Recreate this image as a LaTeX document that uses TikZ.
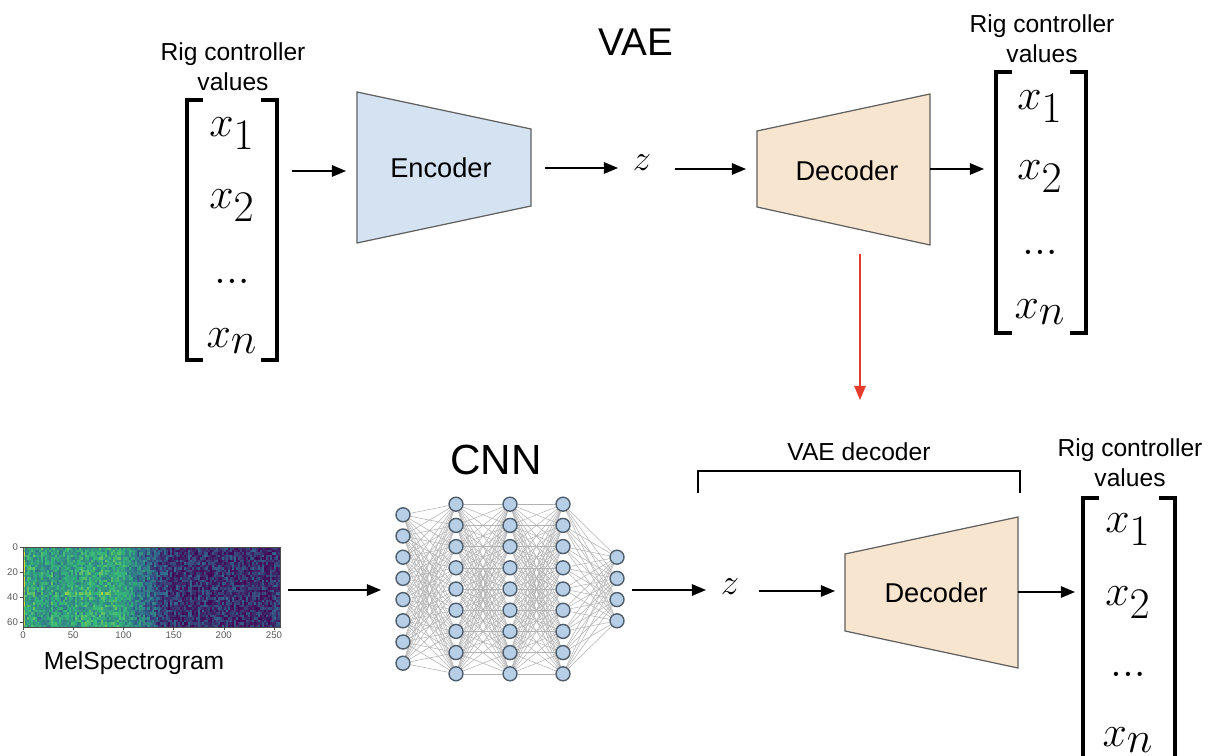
\documentclass[tikz,border=0pt]{standalone}
\usepackage{amsmath}
\usepackage[no-math]{fontspec}
\setmainfont{Liberation Sans}
\usetikzlibrary{arrows.meta,positioning,backgrounds}

\definecolor{encfill}{HTML}{D4E2F2}
\definecolor{decfill}{HTML}{F8E5CF}
\definecolor{blockline}{HTML}{606060}
\definecolor{neufill}{HTML}{B7CFE6}
\definecolor{neuline}{HTML}{505E6C}
\definecolor{redarrow}{HTML}{E53B2C}
% viridis pieces
\definecolor{virAlo}{HTML}{440154}
\definecolor{virAhi}{HTML}{31688E}
\definecolor{virBlo}{HTML}{31688E}
\definecolor{virBhi}{HTML}{35B779}
\definecolor{virClo}{HTML}{35B779}
\definecolor{virChi}{HTML}{FDE725}

\tikzset{
  arr/.style={line width=0.8pt,-{Triangle[length=8pt,width=6.5pt]}},
  block/.style={draw=blockline,line width=0.7pt},
  blocktext/.style={font=\fontsize{15.5}{18}\selectfont},
  vecbr/.style={line width=2.2pt},
  entry/.style={font=\fontsize{36}{40}\selectfont,inner sep=0pt},
  rigtext/.style={font=\fontsize{14}{17}\selectfont,align=center},
  neuron/.style={circle,draw=neuline,fill=neufill,line width=0.8pt,minimum size=0.28cm,inner sep=0pt},
  synapse/.style={gray!60,line width=0.3pt},
  tick/.style={font=\fontsize{5.5}{6}\selectfont,text=gray!70!black,inner sep=1pt}
}

% bracket pair: left x, right x, top y, bottom y
\newcommand{\vecbracket}[4]{
  \draw[vecbr] (#1+16,#3) -- (#1,#3) -- (#1,#4) -- (#1+16,#4);
  \draw[vecbr] (#2-16,#3) -- (#2,#3) -- (#2,#4) -- (#2-16,#4);
}

\begin{document}
\begin{tikzpicture}[x=0.02cm,y=-0.02cm]
\useasboundingbox (0,0) rectangle (1213,756);
\clip (0,0) rectangle (1213,756);

%%% VAE part
\node[font=\fontsize{22}{26}\selectfont] (vae) at (636,42) {VAE};

\node[rigtext] (rigTL) at (233,67) {Rig controller\\values};
\vecbracket{187}{277}{100}{360}
\node[entry] (inx1) at (232,134) {$x_1$};
\node[entry] (inx2) at (232,206) {$x_2$};
\node[entry] (indots) at (232,281) {$...$};
\node[entry] (inxn) at (232,341) {$x_n$};

\filldraw[block,fill=encfill] (357,92) -- (531,129) -- (531,206) -- (357,243) -- cycle;
\node[blocktext] (enc) at (441,168) {Encoder};

\node[font=\fontsize{22}{26}\selectfont] (ztop) at (642,163) {$z$};

\filldraw[block,fill=decfill] (757,131) -- (930,94) -- (930,245) -- (757,207) -- cycle;
\node[blocktext] (dectop) at (847,171) {Decoder};

\node[rigtext] (rigTR) at (1042,39) {Rig controller\\values};
\vecbracket{996}{1086}{72}{333}
\node[entry] (outx1) at (1040,107) {$x_1$};
\node[entry] (outx2) at (1040,177) {$x_2$};
\node[entry] (outdots) at (1040,252) {$...$};
\node[entry] (outxn) at (1040,312) {$x_n$};

\coordinate (inR) at (292,171);
\coordinate (encL) at (346,171);
\coordinate (encR) at (545,168);
\coordinate (zL) at (618,168);
\coordinate (zR) at (675,169);
\coordinate (decL) at (746,169);
\coordinate (decR) at (930,169);
\coordinate (outL) at (984,169);
\draw[arr] (inR) -- (encL);
\draw[arr] (encR) -- (zL);
\draw[arr] (zR) -- (decL);
\draw[arr] (decR) -- (outL);

% decoder is reused below
\coordinate (reuseA) at (860,254);
\coordinate (reuseB) at (860,400);
\draw[arr,redarrow] (reuseA) -- (reuseB);

%%% CNN part
\node[font=\fontsize{24}{28}\selectfont] (cnn) at (496,460) {CNN};

% mel spectrogram, viridis-like noise
\begin{scope}
\clip (23,547) rectangle (280,627);
\pgfmathsetseed{42}
\foreach \i in {0,...,127}{
  \pgfmathsetmacro\tpos{\i*2}
  \pgfmathsetmacro\colbase{0.15+0.42*min(1,max(0,(148-\tpos)/53))}
  \pgfmathsetmacro\colval{\colbase+0.10*(rnd-0.5)+ifthenelse(\i==0,0.32,0)}
  \foreach \j in {0,...,31}{
    \pgfmathsetmacro\streak{ifthenelse(\j==18,1,0)*ifthenelse(\tpos>40,1,0)*ifthenelse(\tpos<85,0.14,0)}
    \pgfmathsetmacro\val{max(0.01,min(0.99,\colval+0.30*(rnd-0.5)+\streak))}
    \pgfmathtruncatemacro\seg{\val*3}
    \pgfmathtruncatemacro\pct{(\val*3-\seg)*100}
    \ifcase\seg \def\sg{A}\or\def\sg{B}\else\def\sg{C}\fi
    \edef\cellcol{vir\sg hi!\pct!vir\sg lo}
    \fill[\cellcol] ({23+\i*2.008},{547+\j*2.5}) rectangle ({23+(\i+1)*2.008+0.4},{547+(\j+1)*2.5+0.4});
  }
}
\end{scope}
\draw[gray!60!black,line width=0.3pt] (23,547) rectangle (280,627);
\foreach \lab/\ty in {0/547,20/572,40/597,60/622}{
  \draw[gray!60!black,line width=0.3pt] (20,\ty) -- (23,\ty);
  \node[tick,anchor=east] (ylab\lab) at (20,\ty) {\lab};
}
\foreach \lab in {0,50,100,150,200,250}{
  \draw[gray!60!black,line width=0.3pt] ({23+\lab*1.004},627) -- ({23+\lab*1.004},630);
  \node[tick,anchor=north] (xlab\lab) at ({23+\lab*1.004},630) {\lab};
}
\node[font=\fontsize{14}{16}\selectfont] (mel) at (134,663) {MelSpectrogram};

% network layers
\foreach \l/\lx/\cnt in {1/403/8, 2/456/9, 3/510/9, 4/563/9, 5/617/4}
  \foreach \k in {1,...,\cnt}
    \node[neuron] (n\l-\k) at (\lx,{589+(\k-(\cnt+1)/2)*21.2}) {};
\begin{scope}[on background layer]
\foreach \a/\na/\b/\nb in {1/8/2/9, 2/9/3/9, 3/9/4/9, 4/9/5/4}
  \foreach \i in {1,...,\na}
    \foreach \j in {1,...,\nb}
      \draw[synapse] (n\a-\i) -- (n\b-\j);
\end{scope}

\node[font=\fontsize{22}{26}\selectfont] (zbot) at (730,587) {$z$};

% VAE decoder brace
\draw[line width=0.9pt] (698,493) -- (698,471) -- (1020,471) -- (1020,493);
\node[font=\fontsize{14}{16}\selectfont] (vaedec) at (859,452) {VAE decoder};

\filldraw[block,fill=decfill] (845,554) -- (1018,517) -- (1018,668) -- (845,631) -- cycle;
\node[blocktext] (decbot) at (936,593) {Decoder};

\node[rigtext] (rigBR) at (1130,463) {Rig controller\\values};
\vecbracket{1083}{1175}{498}{790}
\node[entry] (predx1) at (1128,530) {$x_1$};
\node[entry] (predx2) at (1128,603) {$x_2$};
\node[entry] (preddots) at (1128,674) {$...$};
\node[entry] (predxn) at (1128,740) {$x_n$};

\coordinate (melR) at (288,590);
\coordinate (cnnL) at (381,590);
\coordinate (cnnR) at (632,590);
\coordinate (zbL) at (706,590);
\coordinate (zbR) at (759,591);
\coordinate (dbL) at (835,591);
\coordinate (dbR) at (1018,592);
\coordinate (predL) at (1075,592);
\draw[arr] (melR) -- (cnnL);
\draw[arr] (cnnR) -- (zbL);
\draw[arr] (zbR) -- (dbL);
\draw[arr] (dbR) -- (predL);
\end{tikzpicture}
\end{document}
